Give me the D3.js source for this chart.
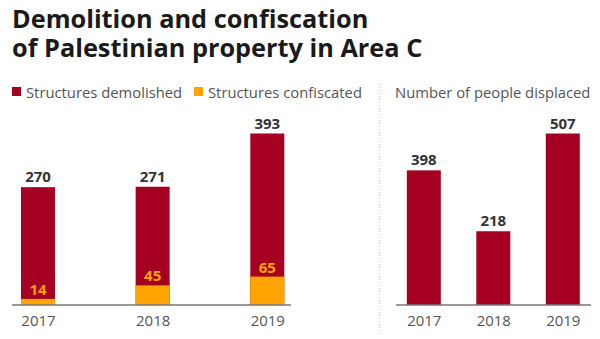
<!DOCTYPE html>
<html><head><meta charset="utf-8">
<script src="https://cdn.jsdelivr.net/npm/d3@7"></script>
<style>body{margin:0;background:#fff;} svg{display:block;font-family:"Open Sans",sans-serif;}</style>
</head><body>
<script>
const years = ["2017","2018","2019"];
const demolished = [270, 271, 393];
const confiscated = [14, 45, 65];
const displaced = [398, 218, 507];
const titleLines = ["Demolition and confiscation","of Palestinian property in Area C"];
const legendLabels = ["Structures demolished","Structures confiscated"];
const rightTitle = "Number of people displaced";

const RED = "#a50021", ORANGE = "#ffa400", TXT = "#555";
const W = 600, H = 339, base = 305, BW = 34;
const svg = d3.select("body").append("svg").attr("width", W).attr("height", H);

const title = svg.append("text").attr("x", 12).attr("y", 28)
  .attr("font-size", 25.3).attr("font-weight", 700).attr("fill", "#1a1a1a");
title.selectAll("tspan").data(titleLines).join("tspan")
  .attr("x", 12).attr("dy", (d,i) => i ? 29 : 0).text(d => d);

// legend
const leg = [{c:RED,x:12,t:legendLabels[0]},{c:ORANGE,x:194,t:legendLabels[1]}];
leg.forEach(l => {
  svg.append("rect").attr("x", l.x).attr("y", 87).attr("width", 9).attr("height", 9).attr("fill", l.c);
  svg.append("text").attr("x", l.x + 14).attr("y", 98).attr("font-size", 14.8).attr("fill", TXT).text(l.t);
});
svg.append("text").attr("x", 395).attr("y", 98).attr("font-size", 14.8).attr("fill", TXT).text(rightTitle);

// separator
svg.append("line").attr("x1", 379.5).attr("x2", 379.5).attr("y1", 84).attr("y2", 336)
  .attr("stroke", "#ccc").attr("stroke-width", 1).attr("stroke-dasharray", "1,2");

// left chart
const xL = d3.scalePoint().domain(years).range([38, 267.3]);
const yL = d3.scaleLinear().domain([0, 393]).range([base, 133.5]);
const gL = svg.append("g");
gL.selectAll("rect.d").data(years).join("rect")
  .attr("x", d => xL(d) - BW/2).attr("width", BW)
  .attr("y", (d,i) => yL(demolished[i])).attr("height", (d,i) => base - yL(demolished[i]))
  .attr("fill", RED);
gL.selectAll("rect.c").data(years).join("rect")
  .attr("x", d => xL(d) - BW/2).attr("width", BW)
  .attr("y", (d,i) => yL(confiscated[i])).attr("height", (d,i) => base - yL(confiscated[i]))
  .attr("fill", ORANGE);
gL.selectAll("text.dv").data(years).join("text")
  .attr("x", d => xL(d)).attr("y", (d,i) => yL(demolished[i]) - 5)
  .attr("text-anchor", "middle").attr("font-size", 15).attr("font-weight", 700).attr("fill", "#333")
  .text((d,i) => demolished[i]);
gL.selectAll("text.cv").data(years).join("text")
  .attr("x", d => xL(d)).attr("y", (d,i) => yL(confiscated[i]) - 4)
  .attr("text-anchor", "middle").attr("font-size", 15).attr("font-weight", 700).attr("fill", ORANGE)
  .text((d,i) => confiscated[i]);
const axL = svg.append("g").attr("transform", `translate(0,${base})`)
  .call(d3.axisBottom(xL).tickSize(0).tickPadding(10));
axL.select(".domain").attr("d", "M12,0H291").attr("stroke", "#777").attr("stroke-width", 1.5);
axL.selectAll("text").attr("font-size", 15).attr("fill", TXT).attr("font-family", "'Open Sans',sans-serif");

// right chart
const xR = d3.scalePoint().domain(years).range([423.8, 562.8]);
const yR = d3.scaleLinear().domain([0, 507]).range([base, 133.5]);
const gR = svg.append("g");
gR.selectAll("rect").data(years).join("rect")
  .attr("x", d => xR(d) - BW/2).attr("width", BW)
  .attr("y", (d,i) => yR(displaced[i])).attr("height", (d,i) => base - yR(displaced[i]))
  .attr("fill", RED);
gR.selectAll("text").data(years).join("text")
  .attr("x", d => xR(d)).attr("y", (d,i) => yR(displaced[i]) - 5)
  .attr("text-anchor", "middle").attr("font-size", 15).attr("font-weight", 700).attr("fill", "#333")
  .text((d,i) => displaced[i]);
const axR = svg.append("g").attr("transform", `translate(0,${base})`)
  .call(d3.axisBottom(xR).tickSize(0).tickPadding(10));
axR.select(".domain").attr("d", "M396,0H591").attr("stroke", "#777").attr("stroke-width", 1.5);
axR.selectAll("text").attr("font-size", 15).attr("fill", TXT).attr("font-family", "'Open Sans',sans-serif");
</script>
</body></html>
